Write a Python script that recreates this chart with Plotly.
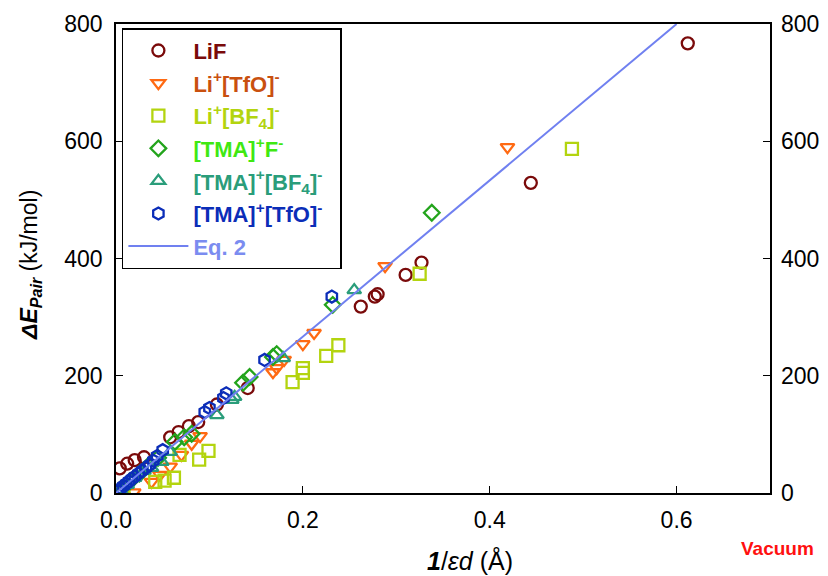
import plotly.graph_objects as go

# ---- data ----
lif_x = [0.004, 0.012, 0.02, 0.03, 0.058, 0.067, 0.078, 0.088, 0.108, 0.141, 0.262, 0.277, 0.28, 0.31, 0.327, 0.444, 0.612]
lif_y = [42, 50, 56, 61, 95, 104, 114, 121, 151, 179, 318, 335, 339, 372, 393, 529, 767]

litfo_x = [0.019, 0.038, 0.047, 0.058, 0.07, 0.081, 0.09, 0.168, 0.172, 0.18, 0.2, 0.212, 0.288, 0.419]
litfo_y = [1, 19, 31, 45, 65, 84, 97, 206, 213, 227, 254, 273, 387, 590]

libf4_x = [0.008, 0.042, 0.052, 0.062, 0.068, 0.089, 0.099, 0.189, 0.2, 0.2, 0.225, 0.238, 0.325, 0.488]
libf4_y = [0, 19, 21, 26, 65, 57, 72, 189, 205, 213, 234, 252, 374, 587]

tmaf_x = [0.006, 0.015, 0.025, 0.035, 0.045, 0.063, 0.073, 0.081, 0.136, 0.143, 0.168, 0.172, 0.232, 0.338]
tmaf_y = [8, 20, 33, 47, 60, 87, 95, 101, 188, 198, 232, 237, 321, 478]

tmabf4_x = [0.005, 0.012, 0.02, 0.03, 0.038, 0.049, 0.058, 0.108, 0.124, 0.127, 0.179, 0.255]
tmabf4_y = [5, 14, 26, 38, 43, 53, 70, 133, 159, 164, 230, 346]

tmatfo_x = [0.002, 0.005, 0.008, 0.011, 0.014, 0.017, 0.02, 0.024, 0.028, 0.032, 0.036, 0.04, 0.044, 0.05,
            0.095, 0.1, 0.115, 0.118, 0.159, 0.231]
tmatfo_y = [4, 8, 12, 16, 20, 24, 28, 33, 38, 43, 48, 55, 63, 73, 138, 145, 162, 170, 227, 335]

eq2_x = [0.0, 0.6]
eq2_y = [0, 800]

x_ticks = [0.0, 0.2, 0.4, 0.6]
x_ticklabels = ["0.0", "0.2", "0.4", "0.6"]
y_ticks = [0, 200, 400, 600, 800]
y_ticklabels = ["0", "200", "400", "600", "800"]

FONT = "Liberation Sans, Arial, Helvetica, sans-serif"

series = [
    ("LiF", lif_x, lif_y, "circle-open", "#7a0a0a", "#7a0a0a"),
    ("Li<sup>+</sup>[TfO]<sup>-</sup>", litfo_x, litfo_y, "triangle-down-open", "#ff6a13", "#c9500f"),
    ("Li<sup>+</sup>[BF<sub>4</sub>]<sup>-</sup>", libf4_x, libf4_y, "square-open", "#b3d40f", "#b3d40f"),
    ("[TMA]<sup>+</sup>F<sup>-</sup>", tmaf_x, tmaf_y, "diamond-open", "#23a41c", "#3fe812"),
    ("[TMA]<sup>+</sup>[BF<sub>4</sub>]<sup>-</sup>", tmabf4_x, tmabf4_y, "triangle-up-open", "#2a9d7a", "#2a9d7a"),
    ("[TMA]<sup>+</sup>[TfO]<sup>-</sup>&nbsp;&nbsp;", tmatfo_x, tmatfo_y, "hexagon-open", "#0b2db8", "#0b2db8"),
]

fig = go.Figure()
for i, (name, xs, ys, sym, col, tcol) in enumerate(series):
    fig.add_trace(go.Scatter(
        x=xs, y=ys, mode="markers",
        name=f"<span style='color:{tcol}'><b>{name}</b></span>",
        legendgroup=f"g{i}",
        marker=dict(symbol=sym, size=12, color=col, line=dict(color=col, width=2.3)),
    ))

fig.add_trace(go.Scatter(
    x=eq2_x, y=eq2_y, mode="lines",
    name="<span style='color:#7b8cf0'><b>Eq. 2</b></span>",
    legendgroup="g6",
    line=dict(color="#7080f0", width=2),
))

fig.add_trace(go.Scatter(x=[0], y=[0], yaxis="y2", mode="markers",
                         marker=dict(opacity=0), showlegend=False, hoverinfo="skip"))

fig.update_layout(
    width=828, height=576,
    margin=dict(l=116, r=58, t=24, b=83, autoexpand=False),
    paper_bgcolor="white", plot_bgcolor="white",
    font=dict(family=FONT, size=23, color="black"),
    showlegend=True,
    legend=dict(
        x=0.009, y=0.991, xanchor="left", yanchor="top",
        bgcolor="white", bordercolor="black", borderwidth=1.5,
        font=dict(family=FONT, size=22),
        tracegroupgap=1, itemwidth=60,
    ),
    xaxis=dict(
        range=[0, 0.7], tickvals=x_ticks, ticktext=x_ticklabels,
        ticks="inside", ticklen=7, tickwidth=1.2, tickcolor="black",
        showline=True, linecolor="black", linewidth=1.5, mirror=True,
        showgrid=False, zeroline=False, automargin=False,
        tickfont=dict(size=23), ticklabelstandoff=6,
    ),
    yaxis=dict(
        range=[0, 800], tickvals=y_ticks, ticktext=y_ticklabels,
        ticks="inside", ticklen=7, tickwidth=1.2, tickcolor="black",
        showline=True, linecolor="black", linewidth=1.5, mirror=True,
        showgrid=False, zeroline=False, automargin=False,
        tickfont=dict(size=23), ticklabelstandoff=7,
    ),
    yaxis2=dict(
        range=[0, 800], tickvals=y_ticks, ticktext=y_ticklabels,
        overlaying="y", side="right",
        ticks="inside", ticklen=7, tickwidth=1.2, tickcolor="black",
        showline=False, showgrid=False, zeroline=False, automargin=False,
        tickfont=dict(size=23), ticklabelstandoff=10,
    ),
    annotations=[
        dict(text="<b>Vacuum</b>", x=1.012, y=-0.119, xref="paper", yref="paper",
             showarrow=False, font=dict(family=FONT, size=19, color="#ff1010"),
             xanchor="center", yanchor="middle"),
        dict(text="<b><i>1</i></b>/<i>εd</i> (Å)", x=0.541, y=-0.143, xref="paper", yref="paper",
             showarrow=False, font=dict(family=FONT, size=25, color="black"),
             xanchor="center", yanchor="middle"),
        dict(text="<b><i>ΔE</i></b><sub><b><i>Pair</i></b></sub> (kJ/mol)", x=-0.1315, y=0.486,
             xref="paper", yref="paper", textangle=-90,
             showarrow=False, font=dict(family=FONT, size=23, color="black"),
             xanchor="center", yanchor="middle"),
    ],
)

fig.write_html("out.html", config={"displayModeBar": False},
               post_script="document.body.style.margin='0';document.body.style.padding='0';")
